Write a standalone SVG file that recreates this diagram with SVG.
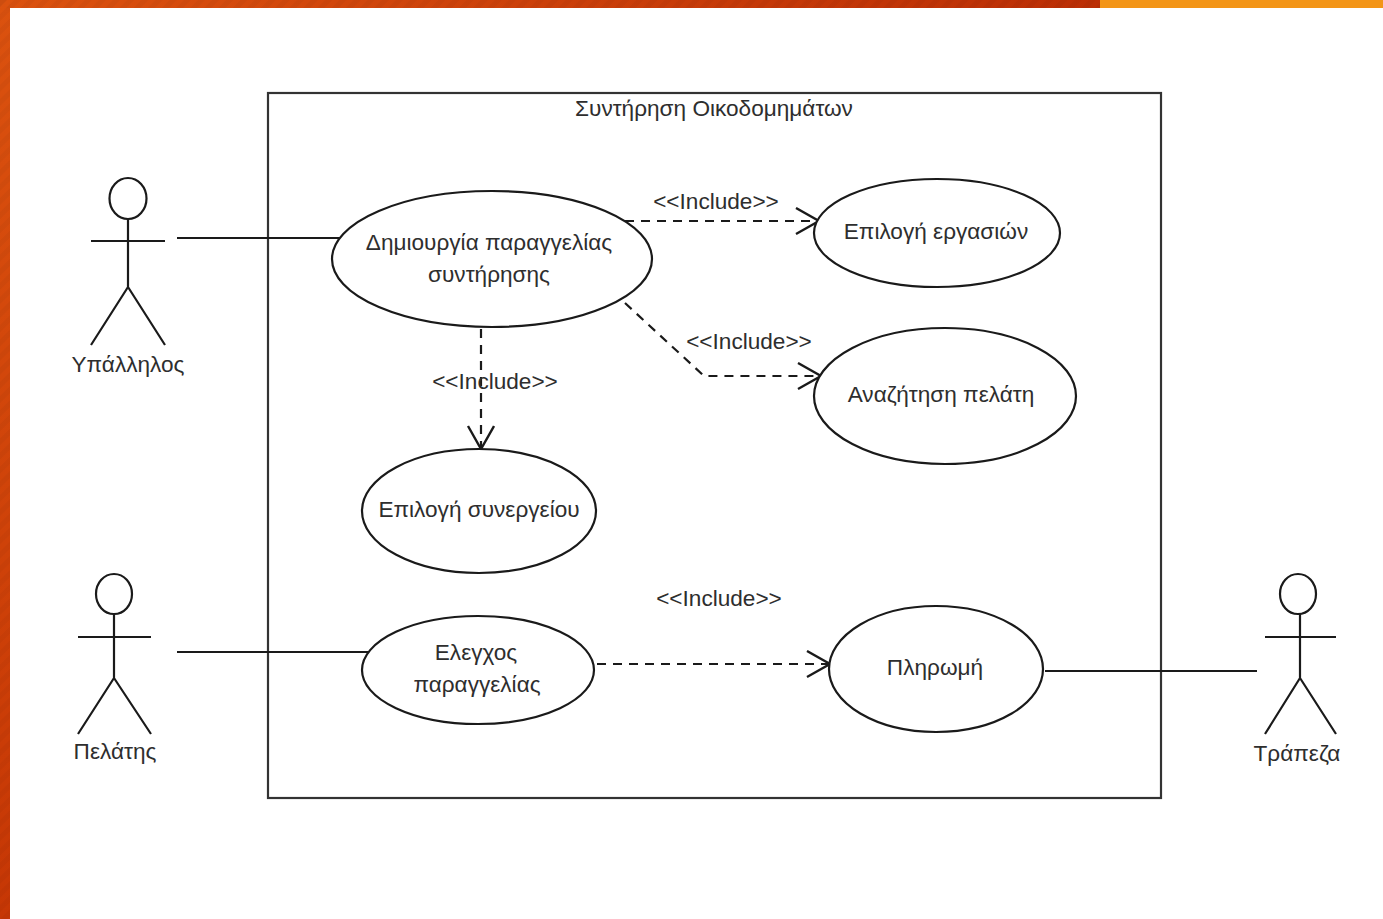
<svg xmlns="http://www.w3.org/2000/svg" width="1383" height="919" viewBox="0 0 1383 919">
<style>
.s{fill:none;stroke:#1a1a1a;stroke-width:2.2}
.e{fill:#fff;stroke:#1a1a1a;stroke-width:2.2}
.d{fill:none;stroke:#1a1a1a;stroke-width:2.2;stroke-dasharray:9 7}
text{font-family:"Liberation Sans",Arial,sans-serif;font-size:22.6px;fill:#2e2e2e;text-anchor:middle}
</style>
<defs>
<linearGradient id="g" x1="0" x2="1" y1="0" y2="0"><stop offset="0" stop-color="#db520f"/><stop offset="1" stop-color="#bb2e05"/></linearGradient>
<linearGradient id="v" x1="0" x2="0" y1="0" y2="1"><stop offset="0" stop-color="#db520f"/><stop offset="1" stop-color="#c63705"/></linearGradient>
<pattern id="st" width="10" height="10" patternUnits="userSpaceOnUse" patternTransform="rotate(-45)"><rect width="10" height="5" fill="#000" fill-opacity=".03"/></pattern>
<marker id="a" markerUnits="userSpaceOnUse" markerWidth="32" markerHeight="32" refX="27" refY="14" orient="auto"><path d="M3 1L26 14L3 27" fill="none" stroke="#1a1a1a" stroke-width="2.4"/></marker>
</defs>
<rect width="1383" height="919" fill="#fff"/>
<rect x="0" y="0" width="1100" height="8" fill="url(#g)"/>
<rect x="1100" y="0" width="283" height="8" fill="#f39517"/>
<rect x="0" y="0" width="10" height="919" fill="url(#v)"/>
<rect x="0" y="0" width="1100" height="8" fill="url(#st)"/>
<rect x="0" y="0" width="10" height="919" fill="url(#st)"/>
<g id="system"><rect x="268" y="93" width="893" height="705" fill="#fff" stroke="#333" stroke-width="2.2"/><text x="714" y="116">Συντήρηση Οικοδομημάτων</text></g>
<g id="connectors">
<path class="s" d="M177 238H343"/><path class="s" d="M177 652H372"/><path class="s" d="M1045 671H1257"/>
<path class="d" d="M625 221H820" marker-end="url(#a)"/>
<path class="d" d="M625 303L704 376H822" marker-end="url(#a)"/>
<path class="d" d="M481 329V450" marker-end="url(#a)"/>
<path class="d" d="M597 664H831" marker-end="url(#a)"/>
</g>
<g id="l1"><text x="716" y="209">&lt;&lt;Include&gt;&gt;</text></g>
<g id="l2"><text x="749" y="349">&lt;&lt;Include&gt;&gt;</text></g>
<g id="l3"><text x="495" y="389">&lt;&lt;Include&gt;&gt;</text></g>
<g id="l4"><text x="719" y="606">&lt;&lt;Include&gt;&gt;</text></g>
<g id="uc1"><ellipse class="e" cx="492" cy="259" rx="160" ry="68"/><text x="489" y="250">Δημιουργία παραγγελίας</text><text x="489" y="282">συντήρησης</text></g>
<g id="uc2"><ellipse class="e" cx="937" cy="233" rx="123" ry="54"/><text x="936" y="239">Επιλογή εργασιών</text></g>
<g id="uc3"><ellipse class="e" cx="945" cy="396" rx="131" ry="68"/><text x="941" y="402">Αναζήτηση πελάτη</text></g>
<g id="uc4"><ellipse class="e" cx="479" cy="511" rx="117" ry="62"/><text x="479" y="517">Επιλογή συνεργείου</text></g>
<g id="uc5"><ellipse class="e" cx="478" cy="670" rx="116" ry="54"/><text x="476" y="660">Ελεγχος</text><text x="477" y="692">παραγγελίας</text></g>
<g id="uc6"><ellipse class="e" cx="936" cy="669" rx="107" ry="63"/><text x="935" y="675">Πληρωμή</text></g>
<g id="a1"><ellipse class="s" cx="128" cy="198.500" rx="18.500" ry="20.500"/><path class="s" d="M128 219V287M91 241H165M128 287L91 345M128 287L165 345"/><text x="128" y="372">Υπάλληλος</text></g>
<g id="a2"><ellipse class="s" cx="114" cy="594" rx="18" ry="20"/><path class="s" d="M114 614V678M78 637H151M114 678L78 734M114 678L151 734"/><text x="115" y="759">Πελάτης</text></g>
<g id="a3"><ellipse class="s" cx="1298" cy="594" rx="18" ry="20"/><path class="s" d="M1300 614V678M1265 637H1336M1300 678L1265 734M1300 678L1336 734"/><text x="1297" y="761">Τράπεζα</text></g>
</svg>
